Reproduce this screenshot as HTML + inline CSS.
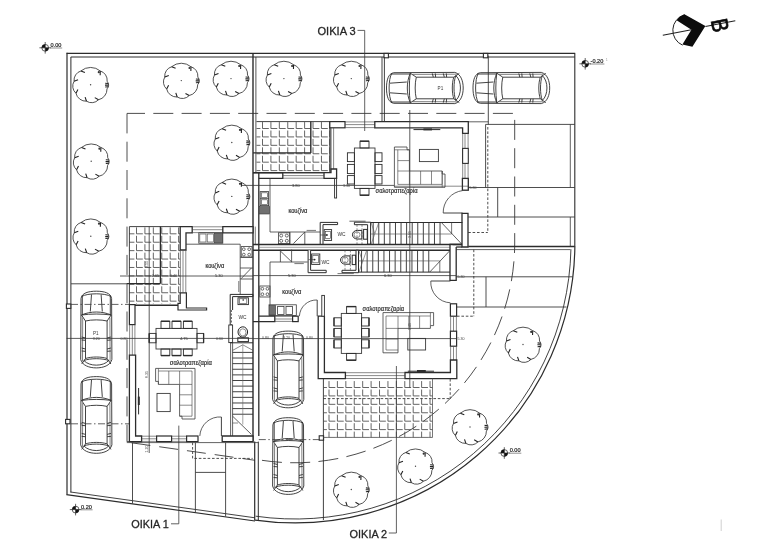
<!DOCTYPE html>
<html lang="el"><head><meta charset="utf-8"><title>Κάτοψη ισογείου</title>
<style>
html,body{margin:0;padding:0;background:#fff;}
body{width:768px;height:546px;overflow:hidden;font-family:"Liberation Sans","DejaVu Sans",sans-serif;}
svg{display:block;filter:blur(0.45px);}
svg text{font-family:"Liberation Sans","DejaVu Sans",sans-serif;}
</style></head><body>
<svg width="768" height="546" viewBox="0 0 768 546">
<rect width="768" height="546" fill="#fff"/>
<defs>
<g id="tree"><path d="M-9.69,-13.84 A15.12,15.12 0 0 1 9.69,-13.84 A9.66,9.66 0 0 1 16.53,-3.51 A5.93,5.93 0 0 1 16.40,4.09 A10.72,10.72 0 0 1 7.93,14.92 A9.45,9.45 0 0 1 -4.09,16.40 A10.30,10.30 0 0 1 -14.64,8.45 A9.45,9.45 0 0 1 -16.53,-3.51 A9.66,9.66 0 0 1 -9.69,-13.84" fill="none" stroke="#333" stroke-width="0.85"/><path d=" M-9.69,-13.84 L-5.71,-12.24 M9.69,-13.84 L9.55,-9.55 M7.93,14.92 L4.17,12.84 M-4.09,16.40 L-5.49,12.33 M-14.64,8.45 L-12.69,4.62 M-16.53,-3.51 L-12.52,-5.06" fill="none" stroke="#222" stroke-width="1.1"/><circle r="0.7" fill="#444"/><path d="M14.6,-1.6 l3.2,0.3 M14.4,0.3 l3.4,0 M14.6,2.2 l3.2,-0.3" stroke="#222" stroke-width="1.1"/><circle cx="8.2" cy="-12.6" r="1.1" fill="#333"/></g>
<g id="car" fill="none" stroke="#2e2e2e" stroke-width="0.9">
<path d="M-31,-15.3 C-36.5,-14.5 -38.3,-8 -38.3,0 C-38.3,8 -36.5,14.5 -31,15.3 L30,15.6 C36,14 38.4,7 38.4,0 C38.4,-7 36,-14 30,-15.6 Z"/>
<path d="M-33,-14.6 C-36.6,-9 -36.6,9 -33,14.6" />
<path d="M-35,-4.8 L-18,-6 M-35,4.8 L-18,6"/>
<path d="M-34,-14 L-14.5,-14 M-34,14 L-14.5,14"/>
<path d="M-14.5,-14.8 C-18.5,-6 -18.5,6 -14.5,14.8"/>
<path d="M-14.5,-14.8 C-15.8,-6 -15.8,6 -14.5,14.8"/>
<path d="M-14.5,-14.8 L-8.5,-10.8 M-14.5,14.8 L-8.5,10.8"/>
<path d="M-8.5,-10.8 C-10,-5 -10,5 -8.5,10.8"/>
<path d="M-8.5,-10.8 L29,-10.8 M-8.5,10.8 L29,10.8"/>
<path d="M-12,-13.6 L32,-13.8 M-12,13.6 L32,13.8" stroke-width="0.6"/>
<path d="M7.5,-14.6 L8.5,-10.8 M10.5,-14.6 L10.8,-10.8 M18.5,-14.6 L19.5,-10.8 M21.5,-14.6 L21.8,-10.8 M7.5,14.6 L8.5,10.8 M10.5,14.6 L10.8,10.8 M18.5,14.6 L19.5,10.8 M21.5,14.6 L21.8,10.8"/>
<path d="M29,-10.8 L34.5,-14.6 M29,10.8 L34.5,14.6"/>
<path d="M29,-10.8 C27,-5 27,5 29,10.8"/>
<path d="M31,-12.4 C37.2,-7 37.2,7 31,12.4 C28.6,6 28.6,-6 31,-12.4 Z"/>
</g>
<g id="elev"><circle r="3.4" fill="#fff" stroke="#222" stroke-width="0.7"/><path d="M0,0 L0,-3.4 A3.4,3.4 0 0 0 -3.4,0 Z M0,0 L0,3.4 A3.4,3.4 0 0 0 3.4,0 Z" fill="#111"/><path d="M-5.8,0 H5.8 M0,-5.8 V5.8" stroke="#222" stroke-width="0.7"/></g>
</defs>
<line x1="66.60" y1="53.40" x2="575.20" y2="53.40" stroke="#2c2c2c" stroke-width="1.3"/>
<line x1="70.80" y1="57.00" x2="574.80" y2="57.00" stroke="#2c2c2c" stroke-width="1.0"/>
<line x1="67.00" y1="52.80" x2="67.00" y2="494.50" stroke="#2c2c2c" stroke-width="1.2"/>
<line x1="70.90" y1="57.00" x2="70.90" y2="492.50" stroke="#2c2c2c" stroke-width="1.0"/>
<line x1="66.40" y1="494.60" x2="255.00" y2="521.00" stroke="#2c2c2c" stroke-width="1.2"/>
<line x1="70.50" y1="492.00" x2="255.00" y2="517.80" stroke="#2c2c2c" stroke-width="0.9"/>
<line x1="574.80" y1="53.40" x2="574.80" y2="246.00" stroke="#2c2c2c" stroke-width="1.1"/>
<path d="M574.88,245.93 A279.9,279.9 0 0 1 255.08,520.04" fill="none" stroke="#2c2c2c" stroke-width="1.2"/>
<path d="M570.93,249.26 A276.0,276.0 0 0 1 255.63,516.18" fill="none" stroke="#2c2c2c" stroke-width="0.9"/>
<path d="M127,113.4 V441.5" fill="none" stroke="#3a3a3a" stroke-width="0.9" stroke-dasharray="20 8.3"/>
<path d="M127,113.4 H514.7 V243 A219.8,219.8 0 0 1 254.94,459.12" fill="none" stroke="#3a3a3a" stroke-width="0.9" stroke-dasharray="20 8.3" stroke-dashoffset="2"/>
<line x1="131.50" y1="442.80" x2="255.00" y2="460.30" stroke="#3a3a3a" stroke-width="0.9" stroke-dasharray="19 9"/>
<line x1="253.00" y1="53.40" x2="253.00" y2="441.60" stroke="#2c2c2c" stroke-width="1.4"/>
<line x1="255.90" y1="57.00" x2="255.90" y2="172.60" stroke="#2c2c2c" stroke-width="0.8"/>
<line x1="258.30" y1="441.60" x2="258.30" y2="520.80" stroke="#2c2c2c" stroke-width="1.0"/>
<line x1="254.70" y1="441.60" x2="254.70" y2="520.60" stroke="#2c2c2c" stroke-width="1.2"/>
<line x1="258.80" y1="172.80" x2="258.80" y2="436.00" stroke="#2c2c2c" stroke-width="1.3"/>
<line x1="255.30" y1="226.60" x2="255.30" y2="244.00" stroke="#444" stroke-width="0.7"/>
<rect x="384.00" y="53.40" width="4.40" height="4.40" fill="#fff" stroke="#2c2c2c" stroke-width="1.1"/>
<rect x="483.40" y="53.40" width="4.40" height="4.40" fill="#fff" stroke="#2c2c2c" stroke-width="1.1"/>
<rect x="66.40" y="304.00" width="4.40" height="4.40" fill="#fff" stroke="#2c2c2c" stroke-width="1.1"/>
<rect x="65.60" y="419.40" width="4.40" height="4.40" fill="#fff" stroke="#2c2c2c" stroke-width="1.1"/>
<rect x="319.20" y="435.80" width="4.40" height="4.40" fill="#fff" stroke="#2c2c2c" stroke-width="1.1"/>
<line x1="382.00" y1="57.00" x2="382.00" y2="121.60" stroke="#2c2c2c" stroke-width="0.9"/>
<line x1="384.40" y1="57.00" x2="384.40" y2="121.60" stroke="#2c2c2c" stroke-width="0.9"/>
<line x1="488.30" y1="55.60" x2="488.30" y2="124.40" stroke="#3a3a3a" stroke-width="0.9"/>
<line x1="485.60" y1="124.40" x2="574.80" y2="124.40" stroke="#3a3a3a" stroke-width="0.9"/>
<line x1="468.30" y1="121.80" x2="488.30" y2="121.80" stroke="#3a3a3a" stroke-width="0.8"/>
<line x1="485.60" y1="124.40" x2="485.60" y2="187.50" stroke="#3a3a3a" stroke-width="0.9"/>
<line x1="570.30" y1="124.40" x2="570.30" y2="187.50" stroke="#3a3a3a" stroke-width="0.8"/>
<line x1="468.20" y1="187.50" x2="574.80" y2="187.50" stroke="#3a3a3a" stroke-width="0.9"/>
<line x1="497.70" y1="187.50" x2="497.70" y2="217.00" stroke="#3a3a3a" stroke-width="0.9"/>
<line x1="468.20" y1="217.00" x2="574.80" y2="217.00" stroke="#3a3a3a" stroke-width="0.9"/>
<line x1="570.30" y1="217.00" x2="570.30" y2="246.40" stroke="#3a3a3a" stroke-width="0.8"/>
<line x1="468.20" y1="246.50" x2="574.80" y2="246.50" stroke="#2c2c2c" stroke-width="1.5"/>
<line x1="456.00" y1="249.60" x2="570.30" y2="249.60" stroke="#3a3a3a" stroke-width="0.8"/>
<line x1="456.00" y1="276.80" x2="572.80" y2="276.80" stroke="#3a3a3a" stroke-width="0.9"/>
<line x1="486.00" y1="276.80" x2="486.00" y2="307.00" stroke="#3a3a3a" stroke-width="0.9"/>
<line x1="456.00" y1="307.00" x2="566.50" y2="307.00" stroke="#3a3a3a" stroke-width="0.9"/>
<line x1="487.80" y1="127.00" x2="487.80" y2="232.50" stroke="#3a3a3a" stroke-width="0.9" stroke-dasharray="2.6 1.8"/>
<line x1="468.20" y1="232.50" x2="487.80" y2="232.50" stroke="#3a3a3a" stroke-width="0.9" stroke-dasharray="2.6 1.8"/>
<line x1="473.80" y1="249.60" x2="473.80" y2="316.20" stroke="#3a3a3a" stroke-width="0.9" stroke-dasharray="2.6 1.8"/>
<line x1="457.00" y1="316.20" x2="473.80" y2="316.20" stroke="#3a3a3a" stroke-width="0.9" stroke-dasharray="2.6 1.8"/>
<line x1="450.20" y1="379.00" x2="450.20" y2="398.80" stroke="#3a3a3a" stroke-width="0.9" stroke-dasharray="2.6 1.8"/>
<line x1="323.40" y1="398.60" x2="450.20" y2="398.60" stroke="#3a3a3a" stroke-width="0.9" stroke-dasharray="2.6 1.8"/>
<use href="#tree" transform="translate(90.6,84.8) rotate(0)"/>
<use href="#tree" transform="translate(181.3,80.6) rotate(0)"/>
<use href="#tree" transform="translate(231,78.6) rotate(0)"/>
<use href="#tree" transform="translate(283.9,78.6) rotate(0)"/>
<use href="#tree" transform="translate(351.3,78.6) rotate(0)"/>
<use href="#tree" transform="translate(91.2,161.3) rotate(0)"/>
<use href="#tree" transform="translate(90.8,236.3) rotate(0)"/>
<use href="#tree" transform="translate(231.8,142.5) rotate(0)"/>
<use href="#tree" transform="translate(231.8,196.4) rotate(0)"/>
<use href="#tree" transform="translate(523,344.5) rotate(0)"/>
<use href="#tree" transform="translate(470,427) rotate(0)"/>
<use href="#tree" transform="translate(415.5,466.3) rotate(0)"/>
<use href="#tree" transform="translate(351.3,489.5) rotate(0)"/>
<use href="#car" transform="translate(424.8,88)"/>
<use href="#car" transform="translate(511.3,88)"/>
<use href="#car" transform="translate(96.3,329.5) rotate(90)"/>
<use href="#car" transform="translate(96.3,414.9) rotate(90)"/>
<use href="#car" transform="translate(288.2,369.4) rotate(90)"/>
<use href="#car" transform="translate(288.2,456) rotate(90)"/>
<text x="437.60" y="89.60" font-size="4.6" text-anchor="start" fill="#3a3a3a" font-weight="normal">P1</text>
<text x="93.00" y="335.40" font-size="4.6" text-anchor="start" fill="#3a3a3a" font-weight="normal">P1</text>
<clipPath id="tc1"><rect x="256.5" y="121.6" width="73.5" height="50.599999999999994"/></clipPath>
<g clip-path="url(#tc1)"><path d="M254.08,122.08V128.50H260.40M254.08,130.50V136.92H260.40M254.08,138.92V145.34H260.40M254.08,147.34V153.76H260.40M254.08,155.76V162.18H260.40M254.08,164.18V170.60H260.40M254.08,172.60V179.02H260.40M262.50,122.08V128.50H268.82M262.50,130.50V136.92H268.82M262.50,138.92V145.34H268.82M262.50,147.34V153.76H268.82M262.50,155.76V162.18H268.82M262.50,164.18V170.60H268.82M262.50,172.60V179.02H268.82M270.92,122.08V128.50H277.24M270.92,130.50V136.92H277.24M270.92,138.92V145.34H277.24M270.92,147.34V153.76H277.24M270.92,155.76V162.18H277.24M270.92,164.18V170.60H277.24M270.92,172.60V179.02H277.24M279.34,122.08V128.50H285.66M279.34,130.50V136.92H285.66M279.34,138.92V145.34H285.66M279.34,147.34V153.76H285.66M279.34,155.76V162.18H285.66M279.34,164.18V170.60H285.66M279.34,172.60V179.02H285.66M287.76,122.08V128.50H294.08M287.76,130.50V136.92H294.08M287.76,138.92V145.34H294.08M287.76,147.34V153.76H294.08M287.76,155.76V162.18H294.08M287.76,164.18V170.60H294.08M287.76,172.60V179.02H294.08M296.18,122.08V128.50H302.50M296.18,130.50V136.92H302.50M296.18,138.92V145.34H302.50M296.18,147.34V153.76H302.50M296.18,155.76V162.18H302.50M296.18,164.18V170.60H302.50M296.18,172.60V179.02H302.50M304.60,122.08V128.50H310.92M304.60,130.50V136.92H310.92M304.60,138.92V145.34H310.92M304.60,147.34V153.76H310.92M304.60,155.76V162.18H310.92M304.60,164.18V170.60H310.92M304.60,172.60V179.02H310.92M313.02,122.08V128.50H319.34M313.02,130.50V136.92H319.34M313.02,138.92V145.34H319.34M313.02,147.34V153.76H319.34M313.02,155.76V162.18H319.34M313.02,164.18V170.60H319.34M313.02,172.60V179.02H319.34M321.44,122.08V128.50H327.76M321.44,130.50V136.92H327.76M321.44,138.92V145.34H327.76M321.44,147.34V153.76H327.76M321.44,155.76V162.18H327.76M321.44,164.18V170.60H327.76M321.44,172.60V179.02H327.76M329.86,122.08V128.50H336.18M329.86,130.50V136.92H336.18M329.86,138.92V145.34H336.18M329.86,147.34V153.76H336.18M329.86,155.76V162.18H336.18M329.86,164.18V170.60H336.18M329.86,172.60V179.02H336.18" fill="none" stroke="#4a4a4a" stroke-width="0.85"/></g>
<line x1="256.50" y1="121.60" x2="330.00" y2="121.60" stroke="#2c2c2c" stroke-width="0.9"/>
<line x1="253.00" y1="152.90" x2="310.80" y2="152.90" stroke="#2c2c2c" stroke-width="1.4"/>
<line x1="310.80" y1="121.60" x2="310.80" y2="152.90" stroke="#2c2c2c" stroke-width="1.4"/>
<line x1="330.00" y1="121.60" x2="330.00" y2="172.00" stroke="#2c2c2c" stroke-width="1.3"/>
<line x1="253.00" y1="172.60" x2="330.00" y2="172.60" stroke="#2c2c2c" stroke-width="1.2"/>
<rect x="329.80" y="121.60" width="15.20" height="6.20" fill="#fff" stroke="#2c2c2c" stroke-width="1.2"/>
<line x1="345.00" y1="121.90" x2="374.80" y2="121.90" stroke="#4a4a4a" stroke-width="0.65"/>
<line x1="345.00" y1="124.60" x2="374.80" y2="124.60" stroke="#4a4a4a" stroke-width="0.65"/>
<line x1="345.00" y1="127.60" x2="374.80" y2="127.60" stroke="#4a4a4a" stroke-width="0.65"/>
<path d="M374.8,121.6 H468.3 V133.4 H462.6 V127.8 H374.8 Z" fill="#fff" stroke="#2c2c2c" stroke-width="1.3"/>
<line x1="462.70" y1="133.40" x2="462.70" y2="148.40" stroke="#4a4a4a" stroke-width="0.65"/>
<line x1="465.00" y1="133.40" x2="465.00" y2="148.40" stroke="#4a4a4a" stroke-width="0.65"/>
<line x1="468.10" y1="133.40" x2="468.10" y2="148.40" stroke="#4a4a4a" stroke-width="0.65"/>
<rect x="462.60" y="148.40" width="5.70" height="15.00" fill="#fff" stroke="#2c2c2c" stroke-width="1.1"/>
<line x1="462.70" y1="163.40" x2="462.70" y2="178.40" stroke="#4a4a4a" stroke-width="0.65"/>
<line x1="465.00" y1="163.40" x2="465.00" y2="178.40" stroke="#4a4a4a" stroke-width="0.65"/>
<line x1="468.10" y1="163.40" x2="468.10" y2="178.40" stroke="#4a4a4a" stroke-width="0.65"/>
<rect x="462.40" y="178.40" width="5.90" height="11.80" fill="#fff" stroke="#2c2c2c" stroke-width="1.3"/>
<line x1="443.20" y1="213.00" x2="462.60" y2="213.00" stroke="#2c2c2c" stroke-width="0.9"/>
<path d="M462.6,190.6 A22,22 0 0 0 443.2,213" fill="none" stroke="#3a3a3a" stroke-width="0.8"/>
<path d="M462,213.4 H468 V247 H462 Z" fill="#fff" stroke="#2c2c2c" stroke-width="1.3"/>
<line x1="331.20" y1="127.80" x2="331.20" y2="169.00" stroke="#4a4a4a" stroke-width="0.65"/>
<line x1="333.60" y1="127.80" x2="333.60" y2="169.00" stroke="#4a4a4a" stroke-width="0.65"/>
<path d="M324,172.6 H331 V169 H336.6 V178.4 H324 Z" fill="#fff" stroke="#2c2c2c" stroke-width="1.3"/>
<path d="M253,172.8 H282.8 V178.4 H258.8" fill="none" stroke="#2c2c2c" stroke-width="1.3"/>
<line x1="282.80" y1="173.00" x2="324.00" y2="173.00" stroke="#4a4a4a" stroke-width="0.65"/>
<line x1="282.80" y1="175.60" x2="324.00" y2="175.60" stroke="#4a4a4a" stroke-width="0.65"/>
<line x1="282.80" y1="178.20" x2="324.00" y2="178.20" stroke="#4a4a4a" stroke-width="0.65"/>
<rect x="334.60" y="178.40" width="2.00" height="19.60" fill="#fff" stroke="#2c2c2c" stroke-width="0.9"/>
<line x1="270.00" y1="178.40" x2="270.00" y2="232.00" stroke="#3a3a3a" stroke-width="0.8"/>
<line x1="270.00" y1="232.00" x2="320.40" y2="232.00" stroke="#3a3a3a" stroke-width="0.8"/>
<rect x="260.20" y="191.60" width="8.40" height="14.00" fill="none" stroke="#3a3a3a" stroke-width="0.8"/>
<line x1="260.20" y1="198.60" x2="268.60" y2="198.60" stroke="#3a3a3a" stroke-width="0.8"/>
<rect x="261.30" y="192.80" width="6.20" height="4.80" fill="none" stroke="#3a3a3a" stroke-width="0.6"/>
<rect x="261.30" y="199.80" width="6.20" height="4.80" fill="none" stroke="#3a3a3a" stroke-width="0.6"/>
<rect x="259.60" y="206.60" width="9.80" height="7.40" fill="#707070" stroke="#3a3a3a" stroke-width="0.6"/>
<rect x="278.40" y="232.80" width="11.40" height="10.80" fill="none" stroke="#3a3a3a" stroke-width="0.8"/>
<circle cx="281.2" cy="235.6" r="1.5" fill="none" stroke="#333" stroke-width="0.7"/>
<circle cx="286.8" cy="235.6" r="1.5" fill="none" stroke="#333" stroke-width="0.7"/>
<circle cx="281.2" cy="240.8" r="1.5" fill="none" stroke="#333" stroke-width="0.7"/>
<circle cx="286.8" cy="240.8" r="1.5" fill="none" stroke="#333" stroke-width="0.7"/>
<line x1="289.80" y1="232.00" x2="289.80" y2="244.00" stroke="#3a3a3a" stroke-width="0.8"/>
<line x1="304.80" y1="232.00" x2="304.80" y2="244.00" stroke="#3a3a3a" stroke-width="0.8"/>
<line x1="304.80" y1="232.00" x2="293.40" y2="243.60" stroke="#3a3a3a" stroke-width="0.8"/>
<line x1="306.60" y1="230.40" x2="316.00" y2="230.40" stroke="#777" stroke-width="1.0"/>
<text x="288.40" y="212.60" font-size="6.3" text-anchor="start" fill="#2a2a2a" font-weight="normal" textLength="19" lengthAdjust="spacingAndGlyphs" stroke="#2a2a2a" stroke-width="0.18">κουζίνα</text>
<path d="M320.2,244.4 V222.4 H337.6 V224.6 H323 V244.4" fill="#fff" stroke="#2c2c2c" stroke-width="1.0"/>
<path d="M354.4,222.2 H370.6 V244.2 H367.6 V224.7 H354.4 Z" fill="#fff" stroke="#2c2c2c" stroke-width="1.0"/>
<line x1="349.40" y1="221.20" x2="365.60" y2="221.20" stroke="#3a3a3a" stroke-width="0.8"/>
<rect x="324.20" y="229.60" width="7.40" height="10.80" fill="none" stroke="#2c2c2c" stroke-width="0.9"/>
<rect x="325.40" y="231.40" width="5.00" height="7.20" fill="none" stroke="#3a3a3a" stroke-width="0.6"/>
<circle cx="326.9" cy="235" r="0.9" fill="#222"/>
<line x1="320.00" y1="235.00" x2="326.90" y2="235.00" stroke="#3a3a3a" stroke-width="0.6"/>
<text x="337.60" y="236.20" font-size="4.8" text-anchor="start" fill="#2e2e2e" font-weight="normal">WC</text>
<path d="M361.9,230.4 V239 H357.5 C350.8,239 350.8,230.4 357.5,230.4 Z" fill="none" stroke="#262626" stroke-width="1"/>
<ellipse cx="357" cy="234.7" rx="3" ry="2.9" fill="none" stroke="#444" stroke-width="0.6"/>
<rect x="363.60" y="229.40" width="3.60" height="9.80" fill="none" stroke="#2c2c2c" stroke-width="1.0"/>
<line x1="357.00" y1="224.80" x2="357.00" y2="244.00" stroke="#4a4a4a" stroke-width="0.65" stroke-dasharray="2 1.5"/>
<line x1="362.00" y1="224.80" x2="362.00" y2="244.00" stroke="#4a4a4a" stroke-width="0.65" stroke-dasharray="2 1.5"/>
<line x1="370.40" y1="222.50" x2="462.40" y2="222.50" stroke="#2c2c2c" stroke-width="1.0"/>
<line x1="373.20" y1="222.50" x2="373.20" y2="244.40" stroke="#2c2c2c" stroke-width="0.9"/>
<line x1="378.77" y1="222.50" x2="378.77" y2="244.40" stroke="#2c2c2c" stroke-width="0.9"/>
<line x1="384.34" y1="222.50" x2="384.34" y2="244.40" stroke="#2c2c2c" stroke-width="0.9"/>
<line x1="389.91" y1="222.50" x2="389.91" y2="244.40" stroke="#2c2c2c" stroke-width="0.9"/>
<line x1="395.48" y1="222.50" x2="395.48" y2="244.40" stroke="#2c2c2c" stroke-width="0.9"/>
<line x1="401.05" y1="222.50" x2="401.05" y2="244.40" stroke="#2c2c2c" stroke-width="0.9"/>
<line x1="406.62" y1="222.50" x2="406.62" y2="244.40" stroke="#2c2c2c" stroke-width="0.9"/>
<line x1="412.19" y1="222.50" x2="412.19" y2="244.40" stroke="#2c2c2c" stroke-width="0.9"/>
<line x1="417.76" y1="222.50" x2="417.76" y2="244.40" stroke="#2c2c2c" stroke-width="0.9"/>
<line x1="423.33" y1="222.50" x2="423.33" y2="244.40" stroke="#2c2c2c" stroke-width="0.9"/>
<line x1="428.90" y1="222.50" x2="428.90" y2="244.40" stroke="#2c2c2c" stroke-width="0.9"/>
<line x1="434.47" y1="222.50" x2="434.47" y2="244.40" stroke="#2c2c2c" stroke-width="0.9"/>
<line x1="440.04" y1="222.50" x2="440.04" y2="244.40" stroke="#2c2c2c" stroke-width="0.9"/>
<line x1="441.40" y1="222.50" x2="461.80" y2="244.20" stroke="#3a3a3a" stroke-width="0.8"/>
<line x1="371.00" y1="234.00" x2="451.60" y2="234.00" stroke="#555" stroke-width="0.65"/>
<path d="M371.2,244 L378.6,223 M371.2,223 L374.8,233.5" fill="none" stroke="#555" stroke-width="0.6"/>
<line x1="451.60" y1="222.50" x2="451.60" y2="234.00" stroke="#3a3a3a" stroke-width="0.7"/>
<rect x="354.40" y="148.00" width="20.60" height="40.40" fill="#fff" stroke="#3a3a3a" stroke-width="0.9"/>
<rect x="347.40" y="152.80" width="7.00" height="8.80" fill="none" stroke="#2c2c2c" stroke-width="0.9"/>
<rect x="375.00" y="152.80" width="7.00" height="8.80" fill="none" stroke="#2c2c2c" stroke-width="0.9"/>
<rect x="347.40" y="164.40" width="7.00" height="9.20" fill="none" stroke="#2c2c2c" stroke-width="0.9"/>
<rect x="375.00" y="164.40" width="7.00" height="9.20" fill="none" stroke="#2c2c2c" stroke-width="0.9"/>
<rect x="347.40" y="175.60" width="7.00" height="8.40" fill="none" stroke="#2c2c2c" stroke-width="0.9"/>
<rect x="375.00" y="175.60" width="7.00" height="8.40" fill="none" stroke="#2c2c2c" stroke-width="0.9"/>
<rect x="360.00" y="141.20" width="9.00" height="6.80" fill="none" stroke="#2c2c2c" stroke-width="0.9"/>
<rect x="360.00" y="188.40" width="9.00" height="6.80" fill="none" stroke="#2c2c2c" stroke-width="0.9"/>
<line x1="360.00" y1="141.20" x2="369.00" y2="141.20" stroke="#2c2c2c" stroke-width="1.4"/>
<line x1="360.00" y1="195.20" x2="369.00" y2="195.20" stroke="#2c2c2c" stroke-width="1.4"/>
<path d="M394.4,147 H407 V149.8 H409.4 V171 H442.2 V174 H445 V187.3 H394.4 Z" fill="#fff" stroke="#3a3a3a" stroke-width="0.8"/>
<line x1="397.80" y1="149.80" x2="397.80" y2="184.40" stroke="#4a4a4a" stroke-width="0.65"/>
<line x1="397.80" y1="184.40" x2="442.20" y2="184.40" stroke="#4a4a4a" stroke-width="0.65"/>
<line x1="394.40" y1="149.80" x2="409.40" y2="149.80" stroke="#4a4a4a" stroke-width="0.65"/>
<line x1="397.80" y1="160.60" x2="409.40" y2="160.60" stroke="#4a4a4a" stroke-width="0.65"/>
<line x1="397.80" y1="171.00" x2="409.40" y2="171.00" stroke="#4a4a4a" stroke-width="0.65"/>
<line x1="409.40" y1="171.00" x2="409.40" y2="184.40" stroke="#4a4a4a" stroke-width="0.65"/>
<line x1="420.60" y1="171.00" x2="420.60" y2="184.40" stroke="#4a4a4a" stroke-width="0.65"/>
<line x1="431.50" y1="171.00" x2="431.50" y2="184.40" stroke="#4a4a4a" stroke-width="0.65"/>
<line x1="442.20" y1="171.00" x2="442.20" y2="184.40" stroke="#4a4a4a" stroke-width="0.65"/>
<line x1="442.20" y1="171.00" x2="442.20" y2="187.30" stroke="#4a4a4a" stroke-width="0.65"/>
<rect x="419.40" y="149.40" width="19.00" height="12.20" fill="none" stroke="#3a3a3a" stroke-width="0.9"/>
<line x1="413.50" y1="129.60" x2="440.30" y2="129.60" stroke="#2c2c2c" stroke-width="1.0"/>
<line x1="423.40" y1="129.40" x2="432.00" y2="129.40" stroke="#2c2c2c" stroke-width="2.0"/>
<text x="375.60" y="192.60" font-size="6.3" text-anchor="start" fill="#2a2a2a" font-weight="normal" textLength="42" lengthAdjust="spacingAndGlyphs" stroke="#2a2a2a" stroke-width="0.18">σαλοτραπεζαρία</text>
<line x1="241.80" y1="185.40" x2="394.00" y2="185.40" stroke="#333" stroke-width="0.8"/>
<text x="292.00" y="186.80" font-size="4.0" text-anchor="start" fill="#333" font-weight="normal">3.80</text>
<text x="343.00" y="187.00" font-size="3.6" text-anchor="start" fill="#444" font-weight="normal">3.30</text>
<line x1="409.80" y1="110.00" x2="409.80" y2="250.00" stroke="#333" stroke-width="0.8"/>
<line x1="394.00" y1="186.20" x2="468.00" y2="186.20" stroke="#3a3a3a" stroke-width="0.6"/>
<text x="469.50" y="189.00" font-size="3.6" text-anchor="start" fill="#444" font-weight="normal">5.30</text>
<text transform="translate(411,238) rotate(-90)" font-size="3.6" fill="#444">3.55</text>
<path d="M357.5,30.4 H364.7 V131" fill="none" stroke="#3a3a3a" stroke-width="0.8"/>
<text x="317.50" y="34.80" font-size="11.6" text-anchor="start" fill="#262626" font-weight="normal" textLength="38.2" lengthAdjust="spacingAndGlyphs" stroke="#262626" stroke-width="0.3">ΟΙΚΙΑ 3</text>
<line x1="253.00" y1="244.40" x2="462.00" y2="244.40" stroke="#2c2c2c" stroke-width="1.5"/>
<line x1="253.00" y1="250.20" x2="450.00" y2="250.20" stroke="#2c2c2c" stroke-width="1.5"/>
<line x1="258.80" y1="247.30" x2="450.00" y2="247.30" stroke="#666" stroke-width="0.6"/>
<line x1="270.00" y1="262.00" x2="307.60" y2="262.00" stroke="#3a3a3a" stroke-width="0.8"/>
<line x1="270.00" y1="262.00" x2="270.00" y2="304.80" stroke="#3a3a3a" stroke-width="0.8"/>
<line x1="280.40" y1="249.60" x2="280.40" y2="262.00" stroke="#3a3a3a" stroke-width="0.8"/>
<line x1="291.60" y1="249.60" x2="291.60" y2="262.00" stroke="#3a3a3a" stroke-width="0.8"/>
<line x1="280.40" y1="251.00" x2="291.60" y2="261.80" stroke="#3a3a3a" stroke-width="0.8"/>
<line x1="294.40" y1="263.60" x2="303.80" y2="263.60" stroke="#777" stroke-width="1.0"/>
<rect x="259.80" y="286.00" width="10.20" height="11.00" fill="none" stroke="#3a3a3a" stroke-width="0.8"/>
<circle cx="262.4" cy="288.8" r="1.4" fill="none" stroke="#333" stroke-width="0.7"/>
<circle cx="267.4" cy="288.8" r="1.4" fill="none" stroke="#333" stroke-width="0.7"/>
<circle cx="262.4" cy="294.2" r="1.4" fill="none" stroke="#333" stroke-width="0.7"/>
<circle cx="267.4" cy="294.2" r="1.4" fill="none" stroke="#333" stroke-width="0.7"/>
<rect x="269.00" y="304.80" width="27.30" height="10.80" fill="none" stroke="#3a3a3a" stroke-width="0.8"/>
<rect x="269.60" y="305.40" width="6.00" height="9.60" fill="#707070" stroke="#3a3a3a" stroke-width="0.6"/>
<rect x="277.60" y="306.40" width="6.40" height="8.00" fill="none" stroke="#3a3a3a" stroke-width="0.8"/>
<rect x="286.00" y="306.40" width="6.50" height="8.00" fill="none" stroke="#3a3a3a" stroke-width="0.8"/>
<text x="282.20" y="294.40" font-size="6.3" text-anchor="start" fill="#2a2a2a" font-weight="normal" textLength="19" lengthAdjust="spacingAndGlyphs" stroke="#2a2a2a" stroke-width="0.18">κουζίνα</text>
<path d="M308.1,250.2 V272.7 H326.2 V270.3 H310.6 V250.2" fill="#fff" stroke="#2c2c2c" stroke-width="1.0"/>
<path d="M342,270.3 H356 V250.2 H358.5 V272.7 H342 Z" fill="#fff" stroke="#2c2c2c" stroke-width="1.0"/>
<line x1="337.50" y1="273.60" x2="353.80" y2="273.60" stroke="#3a3a3a" stroke-width="0.7"/>
<rect x="311.60" y="254.00" width="8.20" height="10.40" fill="none" stroke="#2c2c2c" stroke-width="0.9"/>
<rect x="312.80" y="255.60" width="5.80" height="7.20" fill="none" stroke="#3a3a3a" stroke-width="0.6"/>
<circle cx="314.6" cy="259.6" r="0.9" fill="#222"/>
<line x1="308.40" y1="259.60" x2="314.60" y2="259.60" stroke="#3a3a3a" stroke-width="0.6"/>
<text x="321.60" y="264.00" font-size="4.8" text-anchor="start" fill="#2e2e2e" font-weight="normal">WC</text>
<path d="M350,255.9 V264.2 H345.6 C338.9,264.2 338.9,255.9 345.6,255.9 Z" fill="none" stroke="#262626" stroke-width="1"/>
<ellipse cx="345.2" cy="260" rx="3" ry="2.9" fill="none" stroke="#444" stroke-width="0.6"/>
<rect x="352.20" y="255.20" width="3.40" height="9.40" fill="none" stroke="#2c2c2c" stroke-width="1.0"/>
<line x1="345.00" y1="250.40" x2="345.00" y2="270.00" stroke="#4a4a4a" stroke-width="0.65" stroke-dasharray="2 1.5"/>
<line x1="350.40" y1="250.40" x2="350.40" y2="270.00" stroke="#4a4a4a" stroke-width="0.65" stroke-dasharray="2 1.5"/>
<line x1="358.50" y1="272.10" x2="450.40" y2="272.10" stroke="#2c2c2c" stroke-width="1.0"/>
<line x1="361.55" y1="250.20" x2="361.55" y2="272.10" stroke="#2c2c2c" stroke-width="0.9"/>
<line x1="367.15" y1="250.20" x2="367.15" y2="272.10" stroke="#2c2c2c" stroke-width="0.9"/>
<line x1="372.75" y1="250.20" x2="372.75" y2="272.10" stroke="#2c2c2c" stroke-width="0.9"/>
<line x1="378.35" y1="250.20" x2="378.35" y2="272.10" stroke="#2c2c2c" stroke-width="0.9"/>
<line x1="383.95" y1="250.20" x2="383.95" y2="272.10" stroke="#2c2c2c" stroke-width="0.9"/>
<line x1="389.55" y1="250.20" x2="389.55" y2="272.10" stroke="#2c2c2c" stroke-width="0.9"/>
<line x1="395.15" y1="250.20" x2="395.15" y2="272.10" stroke="#2c2c2c" stroke-width="0.9"/>
<line x1="400.75" y1="250.20" x2="400.75" y2="272.10" stroke="#2c2c2c" stroke-width="0.9"/>
<line x1="406.35" y1="250.20" x2="406.35" y2="272.10" stroke="#2c2c2c" stroke-width="0.9"/>
<line x1="411.95" y1="250.20" x2="411.95" y2="272.10" stroke="#2c2c2c" stroke-width="0.9"/>
<line x1="417.55" y1="250.20" x2="417.55" y2="272.10" stroke="#2c2c2c" stroke-width="0.9"/>
<line x1="423.15" y1="250.20" x2="423.15" y2="272.10" stroke="#2c2c2c" stroke-width="0.9"/>
<line x1="428.75" y1="250.20" x2="428.75" y2="272.10" stroke="#2c2c2c" stroke-width="0.9"/>
<line x1="449.60" y1="250.90" x2="429.80" y2="272.00" stroke="#3a3a3a" stroke-width="0.8"/>
<line x1="358.50" y1="260.90" x2="439.80" y2="260.90" stroke="#555" stroke-width="0.65"/>
<path d="M359,272 L366.4,251 M359,251 L362.6,261.5" fill="none" stroke="#555" stroke-width="0.6"/>
<line x1="439.80" y1="260.90" x2="439.80" y2="272.10" stroke="#3a3a3a" stroke-width="0.7"/>
<path d="M450,244.4 V280.4 H456.2 V247" fill="#fff" stroke="#2c2c2c" stroke-width="1.3"/>
<line x1="456.20" y1="247.00" x2="462.00" y2="247.00" stroke="#2c2c2c" stroke-width="1.3"/>
<line x1="449.40" y1="244.40" x2="462.00" y2="244.40" stroke="#2c2c2c" stroke-width="1.5"/>
<line x1="430.80" y1="281.00" x2="450.40" y2="281.00" stroke="#2c2c2c" stroke-width="0.9"/>
<path d="M430.8,281 A20.5,20.5 0 0 0 450.4,302.8" fill="none" stroke="#3a3a3a" stroke-width="0.8"/>
<rect x="450.40" y="303.80" width="6.20" height="12.40" fill="#fff" stroke="#2c2c2c" stroke-width="1.2"/>
<line x1="450.60" y1="316.20" x2="450.60" y2="331.20" stroke="#4a4a4a" stroke-width="0.65"/>
<line x1="453.50" y1="316.20" x2="453.50" y2="331.20" stroke="#4a4a4a" stroke-width="0.65"/>
<line x1="456.40" y1="316.20" x2="456.40" y2="331.20" stroke="#4a4a4a" stroke-width="0.65"/>
<rect x="450.40" y="331.20" width="6.20" height="15.00" fill="#fff" stroke="#2c2c2c" stroke-width="1.2"/>
<line x1="450.60" y1="346.20" x2="450.60" y2="360.00" stroke="#4a4a4a" stroke-width="0.65"/>
<line x1="453.50" y1="346.20" x2="453.50" y2="360.00" stroke="#4a4a4a" stroke-width="0.65"/>
<line x1="456.40" y1="346.20" x2="456.40" y2="360.00" stroke="#4a4a4a" stroke-width="0.65"/>
<path d="M450.4,360 H456.8 V378.7 H405 V372.5 H450.4 Z" fill="#fff" stroke="#2c2c2c" stroke-width="1.3"/>
<line x1="345.40" y1="372.70" x2="405.00" y2="372.70" stroke="#4a4a4a" stroke-width="0.65"/>
<line x1="345.40" y1="375.60" x2="405.00" y2="375.60" stroke="#4a4a4a" stroke-width="0.65"/>
<line x1="345.40" y1="378.50" x2="405.00" y2="378.50" stroke="#4a4a4a" stroke-width="0.65"/>
<path d="M318.2,316.2 H324.4 V372.5 H345.4 V378.7 H318.2 Z" fill="#fff" stroke="#2c2c2c" stroke-width="1.3"/>
<rect x="321.80" y="295.40" width="2.60" height="20.80" fill="#fff" stroke="#2c2c2c" stroke-width="0.9"/>
<path d="M258.8,316.2 H274.8 V321.6 H253" fill="none" stroke="#2c2c2c" stroke-width="1.3"/>
<line x1="274.80" y1="316.40" x2="292.60" y2="316.40" stroke="#4a4a4a" stroke-width="0.65"/>
<line x1="274.80" y1="319.00" x2="292.60" y2="319.00" stroke="#4a4a4a" stroke-width="0.65"/>
<line x1="274.80" y1="321.40" x2="292.60" y2="321.40" stroke="#4a4a4a" stroke-width="0.65"/>
<rect x="292.60" y="316.20" width="5.60" height="5.40" fill="#fff" stroke="#2c2c2c" stroke-width="1.2"/>
<line x1="317.20" y1="300.00" x2="317.20" y2="316.20" stroke="#2c2c2c" stroke-width="0.9"/>
<path d="M317.2,300 A17,17 0 0 0 299.4,316.2" fill="none" stroke="#3a3a3a" stroke-width="0.8"/>
<rect x="341.30" y="313.40" width="20.30" height="40.00" fill="#fff" stroke="#3a3a3a" stroke-width="0.9"/>
<rect x="334.00" y="317.80" width="7.30" height="8.20" fill="none" stroke="#2c2c2c" stroke-width="0.9"/>
<rect x="361.60" y="317.80" width="7.40" height="8.20" fill="none" stroke="#2c2c2c" stroke-width="0.9"/>
<line x1="334.00" y1="317.80" x2="334.00" y2="326.00" stroke="#2c2c2c" stroke-width="1.2"/>
<line x1="369.00" y1="317.80" x2="369.00" y2="326.00" stroke="#2c2c2c" stroke-width="1.3"/>
<rect x="334.00" y="328.40" width="7.30" height="8.60" fill="none" stroke="#2c2c2c" stroke-width="0.9"/>
<rect x="361.60" y="328.40" width="7.40" height="8.60" fill="none" stroke="#2c2c2c" stroke-width="0.9"/>
<line x1="334.00" y1="328.40" x2="334.00" y2="337.00" stroke="#2c2c2c" stroke-width="1.2"/>
<line x1="369.00" y1="328.40" x2="369.00" y2="337.00" stroke="#2c2c2c" stroke-width="1.3"/>
<rect x="334.00" y="339.80" width="7.30" height="8.20" fill="none" stroke="#2c2c2c" stroke-width="0.9"/>
<rect x="361.60" y="339.80" width="7.40" height="8.20" fill="none" stroke="#2c2c2c" stroke-width="0.9"/>
<line x1="334.00" y1="339.80" x2="334.00" y2="348.00" stroke="#2c2c2c" stroke-width="1.2"/>
<line x1="369.00" y1="339.80" x2="369.00" y2="348.00" stroke="#2c2c2c" stroke-width="1.3"/>
<rect x="346.60" y="306.60" width="9.40" height="6.80" fill="none" stroke="#2c2c2c" stroke-width="0.9"/>
<rect x="346.60" y="353.40" width="9.40" height="6.80" fill="none" stroke="#2c2c2c" stroke-width="0.9"/>
<line x1="346.60" y1="306.60" x2="356.00" y2="306.60" stroke="#2c2c2c" stroke-width="1.4"/>
<line x1="346.60" y1="360.20" x2="356.00" y2="360.20" stroke="#2c2c2c" stroke-width="1.4"/>
<text x="362.60" y="311.00" font-size="6.3" text-anchor="start" fill="#2a2a2a" font-weight="normal" textLength="41.4" lengthAdjust="spacingAndGlyphs" stroke="#2a2a2a" stroke-width="0.18">σαλοτραπεζαρία</text>
<path d="M383,312.6 H433.6 V325.6 H430.4 V328.4 H398 V352.8 H383 Z" fill="#fff" stroke="#3a3a3a" stroke-width="0.8"/>
<line x1="386.00" y1="316.00" x2="430.40" y2="316.00" stroke="#4a4a4a" stroke-width="0.65"/>
<line x1="386.00" y1="316.00" x2="386.00" y2="350.00" stroke="#4a4a4a" stroke-width="0.65"/>
<line x1="386.00" y1="350.00" x2="398.00" y2="350.00" stroke="#4a4a4a" stroke-width="0.65"/>
<line x1="430.40" y1="312.60" x2="430.40" y2="325.60" stroke="#4a4a4a" stroke-width="0.65"/>
<line x1="398.00" y1="316.00" x2="398.00" y2="328.40" stroke="#4a4a4a" stroke-width="0.65"/>
<line x1="408.80" y1="316.00" x2="408.80" y2="328.40" stroke="#4a4a4a" stroke-width="0.65"/>
<line x1="419.60" y1="316.00" x2="419.60" y2="328.40" stroke="#4a4a4a" stroke-width="0.65"/>
<line x1="386.00" y1="328.40" x2="398.00" y2="328.40" stroke="#4a4a4a" stroke-width="0.65"/>
<line x1="386.00" y1="339.00" x2="398.00" y2="339.00" stroke="#4a4a4a" stroke-width="0.65"/>
<rect x="407.80" y="338.40" width="17.80" height="11.60" fill="none" stroke="#3a3a3a" stroke-width="0.9"/>
<line x1="407.80" y1="371.20" x2="434.00" y2="371.20" stroke="#2c2c2c" stroke-width="1.0"/>
<line x1="417.00" y1="371.00" x2="425.80" y2="371.00" stroke="#2c2c2c" stroke-width="2.0"/>
<line x1="253.00" y1="275.60" x2="456.00" y2="275.60" stroke="#333" stroke-width="0.8"/>
<text x="288.00" y="277.00" font-size="4.0" text-anchor="start" fill="#333" font-weight="normal">5.30</text>
<text x="384.00" y="277.00" font-size="4.0" text-anchor="start" fill="#333" font-weight="normal">6.30</text>
<line x1="253.00" y1="338.60" x2="456.60" y2="338.60" stroke="#333" stroke-width="0.8"/>
<line x1="409.80" y1="250.00" x2="409.80" y2="388.00" stroke="#333" stroke-width="0.8"/>
<text x="457.60" y="277.80" font-size="3.6" text-anchor="start" fill="#444" font-weight="normal">5.30</text>
<text x="457.60" y="339.60" font-size="3.6" text-anchor="start" fill="#444" font-weight="normal">5.30</text>
<text x="262.00" y="339.40" font-size="3.6" text-anchor="start" fill="#444" font-weight="normal">0.80</text>
<text x="283.00" y="339.40" font-size="3.6" text-anchor="start" fill="#444" font-weight="normal">3.20</text>
<text x="306.00" y="339.40" font-size="3.6" text-anchor="start" fill="#444" font-weight="normal">0.80</text>
<text transform="translate(411.2,330) rotate(-90)" font-size="3.6" fill="#444">5.45</text>
<clipPath id="tc2"><rect x="323.8" y="378.7" width="108.69999999999999" height="58.69999999999999"/></clipPath>
<g clip-path="url(#tc2)"><path d="M320.58,381.08V387.50H326.90M320.58,389.50V395.92H326.90M320.58,397.92V404.34H326.90M320.58,406.34V412.76H326.90M320.58,414.76V421.18H326.90M320.58,423.18V429.60H326.90M320.58,431.60V438.02H326.90M329.00,381.08V387.50H335.32M329.00,389.50V395.92H335.32M329.00,397.92V404.34H335.32M329.00,406.34V412.76H335.32M329.00,414.76V421.18H335.32M329.00,423.18V429.60H335.32M329.00,431.60V438.02H335.32M337.42,381.08V387.50H343.74M337.42,389.50V395.92H343.74M337.42,397.92V404.34H343.74M337.42,406.34V412.76H343.74M337.42,414.76V421.18H343.74M337.42,423.18V429.60H343.74M337.42,431.60V438.02H343.74M345.84,381.08V387.50H352.16M345.84,389.50V395.92H352.16M345.84,397.92V404.34H352.16M345.84,406.34V412.76H352.16M345.84,414.76V421.18H352.16M345.84,423.18V429.60H352.16M345.84,431.60V438.02H352.16M354.26,381.08V387.50H360.58M354.26,389.50V395.92H360.58M354.26,397.92V404.34H360.58M354.26,406.34V412.76H360.58M354.26,414.76V421.18H360.58M354.26,423.18V429.60H360.58M354.26,431.60V438.02H360.58M362.68,381.08V387.50H369.00M362.68,389.50V395.92H369.00M362.68,397.92V404.34H369.00M362.68,406.34V412.76H369.00M362.68,414.76V421.18H369.00M362.68,423.18V429.60H369.00M362.68,431.60V438.02H369.00M371.10,381.08V387.50H377.42M371.10,389.50V395.92H377.42M371.10,397.92V404.34H377.42M371.10,406.34V412.76H377.42M371.10,414.76V421.18H377.42M371.10,423.18V429.60H377.42M371.10,431.60V438.02H377.42M379.52,381.08V387.50H385.84M379.52,389.50V395.92H385.84M379.52,397.92V404.34H385.84M379.52,406.34V412.76H385.84M379.52,414.76V421.18H385.84M379.52,423.18V429.60H385.84M379.52,431.60V438.02H385.84M387.94,381.08V387.50H394.26M387.94,389.50V395.92H394.26M387.94,397.92V404.34H394.26M387.94,406.34V412.76H394.26M387.94,414.76V421.18H394.26M387.94,423.18V429.60H394.26M387.94,431.60V438.02H394.26M396.36,381.08V387.50H402.68M396.36,389.50V395.92H402.68M396.36,397.92V404.34H402.68M396.36,406.34V412.76H402.68M396.36,414.76V421.18H402.68M396.36,423.18V429.60H402.68M396.36,431.60V438.02H402.68M404.78,381.08V387.50H411.10M404.78,389.50V395.92H411.10M404.78,397.92V404.34H411.10M404.78,406.34V412.76H411.10M404.78,414.76V421.18H411.10M404.78,423.18V429.60H411.10M404.78,431.60V438.02H411.10M413.20,381.08V387.50H419.52M413.20,389.50V395.92H419.52M413.20,397.92V404.34H419.52M413.20,406.34V412.76H419.52M413.20,414.76V421.18H419.52M413.20,423.18V429.60H419.52M413.20,431.60V438.02H419.52M421.62,381.08V387.50H427.94M421.62,389.50V395.92H427.94M421.62,397.92V404.34H427.94M421.62,406.34V412.76H427.94M421.62,414.76V421.18H427.94M421.62,423.18V429.60H427.94M421.62,431.60V438.02H427.94M430.04,381.08V387.50H436.36M430.04,389.50V395.92H436.36M430.04,397.92V404.34H436.36M430.04,406.34V412.76H436.36M430.04,414.76V421.18H436.36M430.04,423.18V429.60H436.36M430.04,431.60V438.02H436.36" fill="none" stroke="#4a4a4a" stroke-width="0.85"/></g>
<line x1="323.40" y1="378.70" x2="323.40" y2="520.00" stroke="#2c2c2c" stroke-width="0.9"/>
<line x1="432.50" y1="378.70" x2="432.50" y2="437.40" stroke="#555" stroke-width="0.8"/>
<line x1="323.40" y1="437.40" x2="432.50" y2="437.40" stroke="#555" stroke-width="0.8"/>
<line x1="258.80" y1="439.60" x2="321.40" y2="439.60" stroke="#3a3a3a" stroke-width="0.8" stroke-dasharray="7 2.5 1.5 2.5"/>
<path d="M388.8,533 H396.4 V366" fill="none" stroke="#3a3a3a" stroke-width="0.8"/>
<text x="349.60" y="538.30" font-size="11.6" text-anchor="start" fill="#262626" font-weight="normal" textLength="37.6" lengthAdjust="spacingAndGlyphs" stroke="#262626" stroke-width="0.3">ΟΙΚΙΑ 2</text>
<clipPath id="tc3"><rect x="129.4" y="226.6" width="50.79999999999998" height="76.79999999999998"/></clipPath>
<g clip-path="url(#tc3)"><path d="M128.08,227.38V233.80H134.40M128.08,235.80V242.22H134.40M128.08,244.22V250.64H134.40M128.08,252.64V259.06H134.40M128.08,261.06V267.48H134.40M128.08,269.48V275.90H134.40M128.08,277.90V284.32H134.40M128.08,286.32V292.74H134.40M128.08,294.74V301.16H134.40M128.08,303.16V309.58H134.40M136.50,227.38V233.80H142.82M136.50,235.80V242.22H142.82M136.50,244.22V250.64H142.82M136.50,252.64V259.06H142.82M136.50,261.06V267.48H142.82M136.50,269.48V275.90H142.82M136.50,277.90V284.32H142.82M136.50,286.32V292.74H142.82M136.50,294.74V301.16H142.82M136.50,303.16V309.58H142.82M144.92,227.38V233.80H151.24M144.92,235.80V242.22H151.24M144.92,244.22V250.64H151.24M144.92,252.64V259.06H151.24M144.92,261.06V267.48H151.24M144.92,269.48V275.90H151.24M144.92,277.90V284.32H151.24M144.92,286.32V292.74H151.24M144.92,294.74V301.16H151.24M144.92,303.16V309.58H151.24M153.34,227.38V233.80H159.66M153.34,235.80V242.22H159.66M153.34,244.22V250.64H159.66M153.34,252.64V259.06H159.66M153.34,261.06V267.48H159.66M153.34,269.48V275.90H159.66M153.34,277.90V284.32H159.66M153.34,286.32V292.74H159.66M153.34,294.74V301.16H159.66M153.34,303.16V309.58H159.66M161.76,227.38V233.80H168.08M161.76,235.80V242.22H168.08M161.76,244.22V250.64H168.08M161.76,252.64V259.06H168.08M161.76,261.06V267.48H168.08M161.76,269.48V275.90H168.08M161.76,277.90V284.32H168.08M161.76,286.32V292.74H168.08M161.76,294.74V301.16H168.08M161.76,303.16V309.58H168.08M170.18,227.38V233.80H176.50M170.18,235.80V242.22H176.50M170.18,244.22V250.64H176.50M170.18,252.64V259.06H176.50M170.18,261.06V267.48H176.50M170.18,269.48V275.90H176.50M170.18,277.90V284.32H176.50M170.18,286.32V292.74H176.50M170.18,294.74V301.16H176.50M170.18,303.16V309.58H176.50M178.60,227.38V233.80H184.92M178.60,235.80V242.22H184.92M178.60,244.22V250.64H184.92M178.60,252.64V259.06H184.92M178.60,261.06V267.48H184.92M178.60,269.48V275.90H184.92M178.60,277.90V284.32H184.92M178.60,286.32V292.74H184.92M178.60,294.74V301.16H184.92M178.60,303.16V309.58H184.92" fill="none" stroke="#4a4a4a" stroke-width="0.85"/></g>
<line x1="129.40" y1="226.60" x2="180.20" y2="226.60" stroke="#2c2c2c" stroke-width="0.9"/>
<line x1="129.40" y1="226.60" x2="129.40" y2="304.00" stroke="#2c2c2c" stroke-width="0.9"/>
<line x1="126.80" y1="283.60" x2="160.40" y2="283.60" stroke="#2c2c2c" stroke-width="1.3"/>
<line x1="160.40" y1="226.60" x2="160.40" y2="283.60" stroke="#2c2c2c" stroke-width="1.3"/>
<line x1="71.00" y1="283.80" x2="126.80" y2="283.80" stroke="#3a3a3a" stroke-width="0.9"/>
<path d="M180.2,226.6 H192.2 V232.8 H186 V250 H180.2 Z" fill="#fff" stroke="#2c2c2c" stroke-width="1.3"/>
<line x1="192.20" y1="226.80" x2="222.80" y2="226.80" stroke="#4a4a4a" stroke-width="0.65"/>
<line x1="192.20" y1="229.70" x2="222.80" y2="229.70" stroke="#4a4a4a" stroke-width="0.65"/>
<line x1="192.20" y1="232.60" x2="222.80" y2="232.60" stroke="#4a4a4a" stroke-width="0.65"/>
<path d="M222.8,226.6 H253 V232.8 H222.8 Z" fill="#fff" stroke="#2c2c2c" stroke-width="1.3"/>
<line x1="180.40" y1="250.00" x2="180.40" y2="292.80" stroke="#4a4a4a" stroke-width="0.65"/>
<line x1="183.00" y1="250.00" x2="183.00" y2="292.80" stroke="#4a4a4a" stroke-width="0.65"/>
<line x1="185.80" y1="250.00" x2="185.80" y2="292.80" stroke="#4a4a4a" stroke-width="0.65"/>
<path d="M180.2,292.8 H186.4 V308 H206.6 V310 H178 V303.4 H180.2 Z" fill="#fff" stroke="#2c2c2c" stroke-width="1.2"/>
<line x1="129.40" y1="305.20" x2="178.00" y2="305.20" stroke="#2c2c2c" stroke-width="1.4"/>
<line x1="186.00" y1="244.20" x2="240.20" y2="244.20" stroke="#3a3a3a" stroke-width="0.8"/>
<line x1="240.20" y1="244.20" x2="240.20" y2="294.60" stroke="#3a3a3a" stroke-width="0.8"/>
<rect x="198.80" y="232.80" width="24.00" height="10.40" fill="none" stroke="#3a3a3a" stroke-width="0.8"/>
<rect x="199.80" y="234.00" width="6.20" height="8.00" fill="none" stroke="#4a4a4a" stroke-width="0.65"/>
<rect x="207.20" y="234.00" width="6.40" height="8.00" fill="none" stroke="#4a4a4a" stroke-width="0.65"/>
<rect x="214.40" y="233.40" width="8.00" height="9.40" fill="#707070" stroke="#3a3a3a" stroke-width="0.6"/>
<rect x="241.20" y="246.60" width="10.80" height="10.60" fill="none" stroke="#3a3a3a" stroke-width="0.8"/>
<circle cx="243.8" cy="249.2" r="1.4" fill="none" stroke="#333" stroke-width="0.7"/>
<circle cx="249.2" cy="249.2" r="1.4" fill="none" stroke="#333" stroke-width="0.7"/>
<circle cx="243.8" cy="254.6" r="1.4" fill="none" stroke="#333" stroke-width="0.7"/>
<circle cx="249.2" cy="254.6" r="1.4" fill="none" stroke="#333" stroke-width="0.7"/>
<line x1="240.20" y1="257.20" x2="253.00" y2="257.20" stroke="#3a3a3a" stroke-width="0.8"/>
<line x1="240.20" y1="268.00" x2="253.00" y2="268.00" stroke="#3a3a3a" stroke-width="0.8"/>
<line x1="251.40" y1="268.00" x2="241.00" y2="278.80" stroke="#3a3a3a" stroke-width="0.8"/>
<line x1="240.20" y1="279.00" x2="253.00" y2="279.00" stroke="#3a3a3a" stroke-width="0.8"/>
<line x1="238.80" y1="281.00" x2="238.80" y2="292.00" stroke="#777" stroke-width="1.0"/>
<text x="205.40" y="268.00" font-size="6.3" text-anchor="start" fill="#2a2a2a" font-weight="normal" textLength="18.8" lengthAdjust="spacingAndGlyphs" stroke="#2a2a2a" stroke-width="0.18">κουζίνα</text>
<line x1="120.00" y1="276.00" x2="253.00" y2="276.00" stroke="#333" stroke-width="0.8"/>
<text x="215.00" y="277.20" font-size="4.0" text-anchor="start" fill="#333" font-weight="normal">5.30</text>
<text x="152.00" y="277.00" font-size="3.6" text-anchor="start" fill="#444" font-weight="normal">2.65</text>
<text x="170.00" y="277.00" font-size="3.6" text-anchor="start" fill="#444" font-weight="normal">0.40</text>
<path d="M230.2,342.8 V294.4 H253 V296.6 H232.6 V310" fill="none" stroke="#2c2c2c" stroke-width="1.0"/>
<line x1="231.40" y1="310.00" x2="231.40" y2="325.00" stroke="#3a3a3a" stroke-width="0.8" stroke-dasharray="2 1.5"/>
<rect x="228.80" y="325.00" width="3.80" height="17.60" fill="#fff" stroke="#2c2c2c" stroke-width="0.9"/>
<line x1="230.20" y1="342.80" x2="253.00" y2="342.80" stroke="#2c2c2c" stroke-width="1.0"/>
<rect x="238.00" y="297.80" width="10.40" height="6.80" fill="none" stroke="#2c2c2c" stroke-width="0.9"/>
<rect x="239.60" y="298.80" width="7.20" height="4.60" fill="none" stroke="#3a3a3a" stroke-width="0.6"/>
<circle cx="243.2" cy="300" r="0.8" fill="#222"/>
<text x="238.60" y="319.40" font-size="4.8" text-anchor="start" fill="#2e2e2e" font-weight="normal">WC</text>
<ellipse cx="242.8" cy="332" rx="4.8" ry="5.2" fill="none" stroke="#262626" stroke-width="1"/>
<ellipse cx="242.8" cy="332.4" rx="3.2" ry="3.6" fill="none" stroke="#444" stroke-width="0.6"/>
<rect x="237.80" y="337.80" width="10.60" height="3.80" fill="none" stroke="#2c2c2c" stroke-width="1.0"/>
<line x1="230.60" y1="342.80" x2="230.60" y2="436.00" stroke="#3a3a3a" stroke-width="0.8"/>
<line x1="232.60" y1="342.80" x2="232.60" y2="436.00" stroke="#3a3a3a" stroke-width="0.8"/>
<path d="M232.6,350.4 L242.8,344.8 L253,350.4" fill="none" stroke="#4a4a4a" stroke-width="0.65"/>
<line x1="232.60" y1="352.40" x2="253.00" y2="352.40" stroke="#2c2c2c" stroke-width="0.9"/>
<line x1="232.60" y1="358.02" x2="253.00" y2="358.02" stroke="#2c2c2c" stroke-width="0.9"/>
<line x1="232.60" y1="363.64" x2="253.00" y2="363.64" stroke="#2c2c2c" stroke-width="0.9"/>
<line x1="232.60" y1="369.26" x2="253.00" y2="369.26" stroke="#2c2c2c" stroke-width="0.9"/>
<line x1="232.60" y1="374.88" x2="253.00" y2="374.88" stroke="#2c2c2c" stroke-width="0.9"/>
<line x1="232.60" y1="380.50" x2="253.00" y2="380.50" stroke="#2c2c2c" stroke-width="0.9"/>
<line x1="232.60" y1="386.12" x2="253.00" y2="386.12" stroke="#2c2c2c" stroke-width="0.9"/>
<line x1="232.60" y1="391.74" x2="253.00" y2="391.74" stroke="#2c2c2c" stroke-width="0.9"/>
<line x1="232.60" y1="397.36" x2="253.00" y2="397.36" stroke="#2c2c2c" stroke-width="0.9"/>
<line x1="232.60" y1="402.98" x2="253.00" y2="402.98" stroke="#2c2c2c" stroke-width="0.9"/>
<line x1="232.60" y1="408.60" x2="253.00" y2="408.60" stroke="#2c2c2c" stroke-width="0.9"/>
<line x1="232.60" y1="414.22" x2="253.00" y2="414.22" stroke="#2c2c2c" stroke-width="0.9"/>
<line x1="232.60" y1="416.20" x2="251.40" y2="434.40" stroke="#3a3a3a" stroke-width="0.8"/>
<line x1="232.60" y1="423.00" x2="238.00" y2="423.00" stroke="#4a4a4a" stroke-width="0.65"/>
<line x1="242.80" y1="344.80" x2="242.80" y2="424.60" stroke="#666" stroke-width="0.6"/>
<rect x="129.40" y="304.60" width="5.60" height="20.00" fill="#fff" stroke="#2c2c2c" stroke-width="1.2"/>
<line x1="129.60" y1="324.60" x2="129.60" y2="355.20" stroke="#4a4a4a" stroke-width="0.65"/>
<line x1="132.30" y1="324.60" x2="132.30" y2="355.20" stroke="#4a4a4a" stroke-width="0.65"/>
<line x1="134.90" y1="324.60" x2="134.90" y2="355.20" stroke="#4a4a4a" stroke-width="0.65"/>
<path d="M129.4,355.2 H135.6 V436 H141.6 V441.6 H129.4 Z" fill="#fff" stroke="#2c2c2c" stroke-width="1.3"/>
<line x1="141.60" y1="436.20" x2="156.60" y2="436.20" stroke="#4a4a4a" stroke-width="0.65"/>
<line x1="141.60" y1="438.80" x2="156.60" y2="438.80" stroke="#4a4a4a" stroke-width="0.65"/>
<line x1="141.60" y1="441.40" x2="156.60" y2="441.40" stroke="#4a4a4a" stroke-width="0.65"/>
<rect x="156.60" y="436.00" width="15.00" height="5.60" fill="#fff" stroke="#2c2c2c" stroke-width="1.2"/>
<line x1="171.60" y1="436.20" x2="186.60" y2="436.20" stroke="#4a4a4a" stroke-width="0.65"/>
<line x1="171.60" y1="438.80" x2="186.60" y2="438.80" stroke="#4a4a4a" stroke-width="0.65"/>
<line x1="171.60" y1="441.40" x2="186.60" y2="441.40" stroke="#4a4a4a" stroke-width="0.65"/>
<rect x="186.60" y="436.00" width="11.40" height="5.60" fill="#fff" stroke="#2c2c2c" stroke-width="1.2"/>
<path d="M222.2,436 H253 V441.6 H222.2 Z" fill="#fff" stroke="#2c2c2c" stroke-width="1.3"/>
<line x1="221.40" y1="417.00" x2="221.40" y2="436.00" stroke="#2c2c2c" stroke-width="0.9"/>
<path d="M221.4,417 A20,20 0 0 0 199.8,436" fill="none" stroke="#3a3a3a" stroke-width="0.8"/>
<rect x="156.00" y="328.40" width="41.00" height="20.60" fill="#fff" stroke="#3a3a3a" stroke-width="0.9"/>
<rect x="161.00" y="321.40" width="8.80" height="7.00" fill="none" stroke="#2c2c2c" stroke-width="0.9"/>
<rect x="161.00" y="349.00" width="8.80" height="6.40" fill="none" stroke="#2c2c2c" stroke-width="0.9"/>
<line x1="161.00" y1="355.60" x2="169.80" y2="355.60" stroke="#2c2c2c" stroke-width="1.4"/>
<line x1="161.00" y1="321.20" x2="169.80" y2="321.20" stroke="#2c2c2c" stroke-width="1.4"/>
<rect x="172.00" y="321.40" width="9.00" height="7.00" fill="none" stroke="#2c2c2c" stroke-width="0.9"/>
<rect x="172.00" y="349.00" width="9.00" height="6.40" fill="none" stroke="#2c2c2c" stroke-width="0.9"/>
<line x1="172.00" y1="355.60" x2="181.00" y2="355.60" stroke="#2c2c2c" stroke-width="1.4"/>
<line x1="172.00" y1="321.20" x2="181.00" y2="321.20" stroke="#2c2c2c" stroke-width="1.4"/>
<rect x="183.40" y="321.40" width="8.80" height="7.00" fill="none" stroke="#2c2c2c" stroke-width="0.9"/>
<rect x="183.40" y="349.00" width="8.80" height="6.40" fill="none" stroke="#2c2c2c" stroke-width="0.9"/>
<line x1="183.40" y1="355.60" x2="192.20" y2="355.60" stroke="#2c2c2c" stroke-width="1.4"/>
<line x1="183.40" y1="321.20" x2="192.20" y2="321.20" stroke="#2c2c2c" stroke-width="1.4"/>
<rect x="149.20" y="333.40" width="6.80" height="9.40" fill="none" stroke="#2c2c2c" stroke-width="0.9"/>
<rect x="197.00" y="333.40" width="6.60" height="9.40" fill="none" stroke="#2c2c2c" stroke-width="0.9"/>
<line x1="149.20" y1="333.40" x2="149.20" y2="342.80" stroke="#2c2c2c" stroke-width="1.3"/>
<line x1="203.60" y1="333.40" x2="203.60" y2="342.80" stroke="#2c2c2c" stroke-width="1.3"/>
<text x="169.80" y="364.90" font-size="6.3" text-anchor="start" fill="#2a2a2a" font-weight="normal" textLength="42" lengthAdjust="spacingAndGlyphs" stroke="#2a2a2a" stroke-width="0.18">σαλοτραπεζαρία</text>
<path d="M155.6,368.4 H195 V419 H182 V416.2 H179.6 V384.4 H158.4 V381.4 H155.6 Z" fill="#fff" stroke="#3a3a3a" stroke-width="0.8"/>
<line x1="158.40" y1="371.00" x2="192.00" y2="371.00" stroke="#4a4a4a" stroke-width="0.65"/>
<line x1="192.00" y1="371.00" x2="192.00" y2="416.20" stroke="#4a4a4a" stroke-width="0.65"/>
<line x1="179.60" y1="416.20" x2="192.00" y2="416.20" stroke="#4a4a4a" stroke-width="0.65"/>
<line x1="158.40" y1="368.40" x2="158.40" y2="384.40" stroke="#4a4a4a" stroke-width="0.65"/>
<line x1="168.80" y1="371.00" x2="168.80" y2="384.40" stroke="#4a4a4a" stroke-width="0.65"/>
<line x1="179.60" y1="371.00" x2="179.60" y2="384.40" stroke="#4a4a4a" stroke-width="0.65"/>
<line x1="179.60" y1="384.40" x2="192.00" y2="384.40" stroke="#4a4a4a" stroke-width="0.65"/>
<line x1="179.60" y1="394.80" x2="192.00" y2="394.80" stroke="#4a4a4a" stroke-width="0.65"/>
<line x1="179.60" y1="405.20" x2="192.00" y2="405.20" stroke="#4a4a4a" stroke-width="0.65"/>
<rect x="157.00" y="393.40" width="13.20" height="18.20" fill="none" stroke="#3a3a3a" stroke-width="0.9"/>
<line x1="138.60" y1="388.00" x2="138.60" y2="414.40" stroke="#2c2c2c" stroke-width="1.0"/>
<line x1="138.80" y1="396.60" x2="138.80" y2="405.00" stroke="#2c2c2c" stroke-width="2.0"/>
<line x1="66.60" y1="338.40" x2="253.00" y2="338.40" stroke="#333" stroke-width="0.8"/>
<line x1="149.20" y1="226.60" x2="149.20" y2="453.00" stroke="#333" stroke-width="0.8"/>
<text x="180.00" y="339.60" font-size="4.0" text-anchor="start" fill="#333" font-weight="normal">4.75</text>
<text x="92.80" y="339.80" font-size="3.6" text-anchor="start" fill="#444" font-weight="normal">3.20</text>
<text x="120.50" y="339.60" font-size="3.6" text-anchor="start" fill="#444" font-weight="normal">0.80</text>
<text x="216.00" y="339.60" font-size="3.6" text-anchor="start" fill="#444" font-weight="normal">0.60</text>
<text transform="translate(148.4,378) rotate(-90)" font-size="3.6" fill="#444">6.35</text>
<text transform="translate(148.4,268) rotate(-90)" font-size="3.6" fill="#444">3.55</text>
<text transform="translate(148.4,452.6) rotate(-90)" font-size="3.6" fill="#444">1.20</text>
<line x1="71.00" y1="304.40" x2="129.40" y2="304.40" stroke="#3a3a3a" stroke-width="0.8" stroke-dasharray="7 2.5 1.5 2.5"/>
<line x1="71.00" y1="423.80" x2="129.40" y2="423.80" stroke="#3a3a3a" stroke-width="0.8" stroke-dasharray="7 2.5 1.5 2.5"/>
<line x1="126.80" y1="441.60" x2="129.40" y2="441.60" stroke="#3a3a3a" stroke-width="0.9"/>
<line x1="126.80" y1="442.60" x2="258.00" y2="442.60" stroke="#3a3a3a" stroke-width="0.8"/>
<line x1="132.50" y1="442.60" x2="132.50" y2="503.50" stroke="#3a3a3a" stroke-width="0.9"/>
<line x1="195.40" y1="442.60" x2="195.40" y2="512.40" stroke="#3a3a3a" stroke-width="0.9"/>
<line x1="225.60" y1="442.60" x2="225.60" y2="516.60" stroke="#3a3a3a" stroke-width="0.9"/>
<line x1="195.40" y1="472.40" x2="225.60" y2="472.40" stroke="#3a3a3a" stroke-width="0.9"/>
<path d="M192.6,442.6 V458.4 H252.6" fill="none" stroke="#3a3a3a" stroke-width="0.9" stroke-dasharray="2.6 1.8"/>
<path d="M171,523.8 H178.8 V425.6" fill="none" stroke="#3a3a3a" stroke-width="0.8"/>
<text x="131.30" y="528.00" font-size="11.6" text-anchor="start" fill="#262626" font-weight="normal" textLength="37.5" lengthAdjust="spacingAndGlyphs" stroke="#262626" stroke-width="0.3">ΟΙΚΙΑ 1</text>
<use href="#elev" transform="translate(45.2,47.8)"/>
<text x="50.60" y="47.20" font-size="5.6" text-anchor="start" fill="#222" font-weight="normal" stroke="#222" stroke-width="0.2">0.00</text>
<line x1="50.20" y1="48.00" x2="62.20" y2="48.00" stroke="#444" stroke-width="0.6"/>
<use href="#elev" transform="translate(585.2,63.8)"/>
<text x="590.60" y="63.20" font-size="5.6" text-anchor="start" fill="#222" font-weight="normal" stroke="#222" stroke-width="0.2">-0.20</text>
<line x1="590.20" y1="64.00" x2="604.40" y2="64.00" stroke="#444" stroke-width="0.6"/>
<use href="#elev" transform="translate(75.6,509.6)"/>
<text x="81.00" y="509.00" font-size="5.6" text-anchor="start" fill="#222" font-weight="normal" stroke="#222" stroke-width="0.2">0.20</text>
<line x1="80.60" y1="509.80" x2="92.60" y2="509.80" stroke="#444" stroke-width="0.6"/>
<use href="#elev" transform="translate(504.3,453)"/>
<text x="509.70" y="452.40" font-size="5.6" text-anchor="start" fill="#222" font-weight="normal" stroke="#222" stroke-width="0.2">0.00</text>
<line x1="509.30" y1="453.20" x2="521.30" y2="453.20" stroke="#444" stroke-width="0.6"/>
<text x="606.00" y="60.50" font-size="3" text-anchor="start" fill="#888" font-weight="normal">1</text>
<g>
<path d="M684.4,14.8 A16.2,16.2 0 0 0 682.6,45.2" fill="none" stroke="#222" stroke-width="1.0"/>
<path d="M684.4,14.3 L705.4,26 L692.4,46.8 L682.4,44.6 L691.4,29.7 L676.6,20.3 A16.2,16.2 0 0 1 684.4,14.3 Z" fill="#0c0c0c"/>
<path d="M662.8,35.3 L691.4,29.7 M705.4,26.5 L735.3,20.8" stroke="#222" stroke-width="1.1"/>
<text transform="translate(710.8,20.6) rotate(78.5) scale(0.84,1)" font-size="23.5" fill="#0c0c0c" stroke="#0c0c0c" stroke-width="0.7">Β</text>
</g>
<line x1="721.20" y1="519.50" x2="721.20" y2="531.00" stroke="#cfcfcf" stroke-width="1.0"/>
</svg>
</body></html>
